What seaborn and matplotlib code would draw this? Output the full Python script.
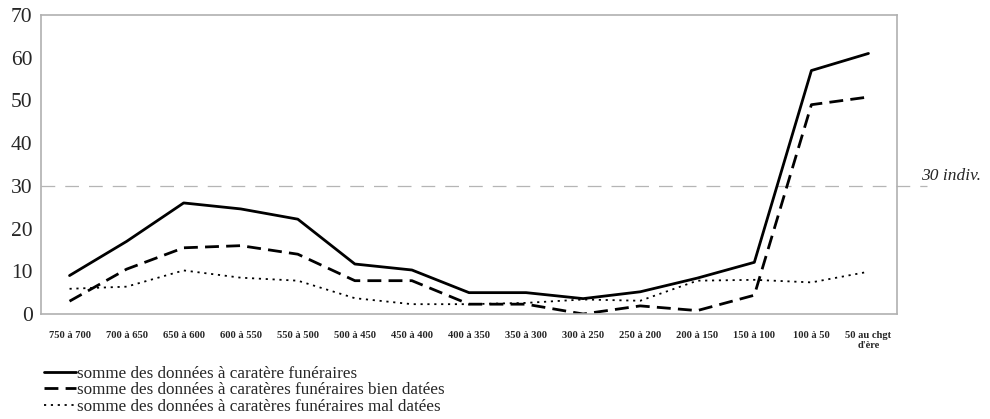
import matplotlib
matplotlib.use("Agg")
import matplotlib.pyplot as plt
from matplotlib.lines import Line2D
import numpy as np
import pandas as pd
import seaborn as sns

categories = ["750 à 700", "700 à 650", "650 à 600", "600 à 550", "550 à 500",
              "500 à 450", "450 à 400", "400 à 350", "350 à 300", "300 à 250",
              "250 à 200", "200 à 150", "150 à 100", "100 à 50", "50 au chgt\nd'ère"]
total = [9.0, 17.0, 26.0, 24.6, 22.2, 11.7, 10.3, 5.0, 5.0, 3.6, 5.2, 8.4, 12.1, 57.0, 61.0]
bien = [3.0, 10.5, 15.5, 16.0, 14.0, 7.8, 7.8, 2.3, 2.3, 0.0, 1.9, 0.8, 4.4, 49.0, 50.8]
mal = [5.9, 6.4, 10.2, 8.5, 7.8, 3.7, 2.3, 2.3, 2.6, 3.4, 3.1, 7.8, 8.0, 7.4, 9.9]
series_names = ["somme des données à caratère funéraires",
                "somme des données à caratères funéraires bien datées",
                "somme des données à caratères funéraires mal datées"]
ref_value = 30
ref_label = "30 indiv."

rows = []
for name, vals in zip(series_names, [total, bien, mal]):
    for i, v in enumerate(vals):
        rows.append({"x": i, "y": v, "serie": name})
df = pd.DataFrame(rows)

sns.set_theme(style="white")
plt.rcParams['font.family'] = ['Liberation Serif', 'DejaVu Serif']

fig = plt.figure(figsize=(9.9, 4.19), dpi=100)
ax = fig.add_axes([41/990, 1-314/419, (897-41)/990, (314-15)/419])

styles = {series_names[0]: (None, 2.0), series_names[1]: ((5, 2.6), 2.0), series_names[2]: ((1.2, 2.6), 1.3)}
for name in series_names:
    d = df[df["serie"] == name]
    dash, lw = styles[name]
    sns.lineplot(data=d, x="x", y="y", ax=ax, color="black", linewidth=lw, legend=False)
    if dash is not None:
        ax.lines[-1].set_dashes(dash)

ax.axhline(ref_value, xmin=0, xmax=1.035, color="#b5b5b5", linewidth=0.9,
           dashes=(11, 8), clip_on=False, zorder=0)
ax.text(1.0275, (ref_value + 2.3) / 70, ref_label, transform=ax.transAxes,
        fontsize=12.5, style="italic", ha="left", va="center")

ax.set_xlim(-0.5, len(categories) - 0.5)
ax.set_ylim(0, 70)
ax.set_yticks(range(0, 71, 10))
ax.set_yticklabels([str(v) for v in range(0, 71, 10)], fontsize=15.5)
ax.set_xticks(range(len(categories)))
ax.set_xticklabels(categories, fontsize=7.6, fontweight="bold", linespacing=1.25)
ax.set_xticks(np.arange(-0.5, len(categories), 1), minor=True)
ax.tick_params(axis="x", which="major", length=0, pad=12)
ax.tick_params(axis="x", which="minor", length=4, color="#b0b0b0", width=0.9, direction="out")
ax.tick_params(axis="y", which="major", length=3, color="#b0b0b0", width=0.9, pad=3, direction="out")
ax.set_xlabel("")
ax.set_ylabel("")
for s in ax.spines.values():
    s.set_color("#b0b0b0")
    s.set_linewidth(1.2)
    s.set_visible(True)

handles = [Line2D([0], [0], color="black", lw=2.0),
           Line2D([0], [0], color="black", lw=2.0, dashes=(5, 2.6)),
           Line2D([0], [0], color="black", lw=1.3, dashes=(1.2, 2.6))]
fig.legend(handles, series_names, loc="upper left", bbox_to_anchor=(44/990, 1-366/419),
           frameon=False, fontsize=12.3, handlelength=1.9, handletextpad=0.05,
           labelspacing=0.02, borderaxespad=0, borderpad=0)

fig.savefig("out.png", dpi=100)
